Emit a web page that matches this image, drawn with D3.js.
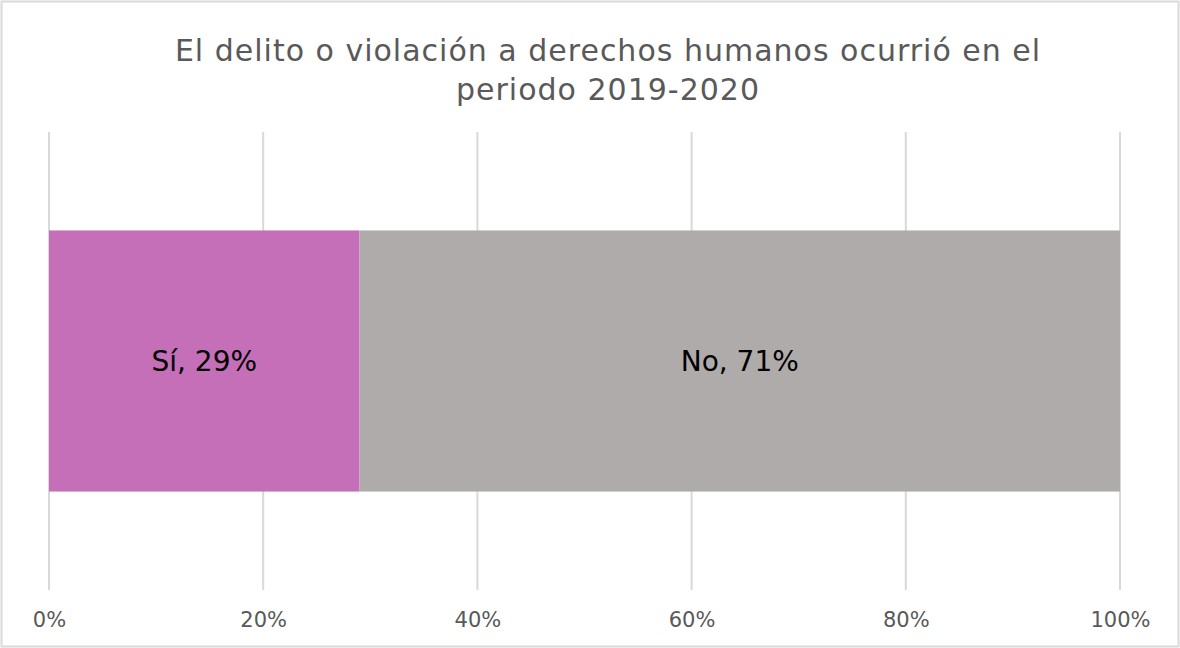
<!DOCTYPE html>
<html>
<head>
<meta charset="utf-8">
<title>El delito ocurrió 2019-2020</title>
<script src="https://cdn.jsdelivr.net/npm/d3@7"></script>
<style>
  body { margin: 0; background: #fff; }
  svg { display: block; }
  .tick text { font-family: "DejaVu Sans", sans-serif; }
</style>
</head>
<body>
<div id="chart"></div>
<script>
// data
var categories = ["Sí", "No"];
var values = [29, 71];
var colors = ["#c46fb8", "#afabab"];
var tickValues = [0, 20, 40, 60, 80, 100];
var titleLines = ["El delito o violación a derechos humanos ocurrió en el", "periodo 2019-2020"];

var W = 1180, H = 648;
var margin = {top: 132, right: 60, bottom: 58, left: 49};
var innerW = W - margin.left - margin.right,
    innerH = H - margin.top - margin.bottom;

var svg = d3.select("#chart").append("svg")
    .attr("width", W)
    .attr("height", H);

// chart border
svg.append("rect")
    .attr("x", 1.5).attr("y", 1.5)
    .attr("width", W - 3).attr("height", H - 3)
    .attr("fill", "#fff")
    .attr("stroke", "#d9d9d9")
    .attr("stroke-width", 2);

// title
svg.append("text")
    .attr("x", 608)
    .attr("text-anchor", "middle")
    .attr("font-family", "DejaVu Sans, sans-serif")
    .attr("font-size", 30)
    .attr("letter-spacing", 1)
    .attr("fill", "#595959")
    .selectAll("tspan")
    .data(titleLines)
    .enter().append("tspan")
    .attr("x", 608)
    .attr("y", function(d, i) { return 61 + i * 39; })
    .text(function(d) { return d; });

var g = svg.append("g")
    .attr("transform", "translate(" + margin.left + "," + margin.top + ")");

var x = d3.scaleLinear().domain([0, 100]).range([0, 1071]);
var y = d3.scaleBand().domain(["row"]).range([0, innerH]).paddingInner(0).paddingOuter(0.377);

// gridlines
g.append("g")
    .selectAll("line")
    .data(tickValues)
    .enter().append("line")
    .attr("x1", function(d) { return x(d); })
    .attr("x2", function(d) { return x(d); })
    .attr("y1", 0)
    .attr("y2", innerH)
    .attr("stroke", "#d9d9d9")
    .attr("stroke-width", 2);

// stacked segments
var segs = [];
var acc = 0;
categories.forEach(function(c, i) {
    segs.push({cat: c, v: values[i], x0: acc, x1: acc + values[i], color: colors[i]});
    acc += values[i];
});

g.selectAll(".seg")
    .data(segs)
    .enter().append("rect")
    .attr("class", "seg")
    .attr("x", function(d) { return x(d.x0); })
    .attr("width", function(d) { return x(d.x1) - x(d.x0); })
    .attr("y", y("row"))
    .attr("height", y.bandwidth())
    .attr("fill", function(d) { return d.color; });

g.selectAll(".lbl")
    .data(segs)
    .enter().append("text")
    .attr("class", "lbl")
    .attr("x", function(d) { return (x(d.x0) + x(d.x1)) / 2; })
    .attr("y", y("row") + y.bandwidth() / 2)
    .attr("dy", "0.35em")
    .attr("text-anchor", "middle")
    .attr("font-family", "DejaVu Sans, sans-serif")
    .attr("font-size", 28)
    .attr("fill", "#000")
    .text(function(d) { return d.cat + ", " + d.v + "%"; });

// x axis labels
var xAxis = d3.axisBottom(x)
    .tickValues(tickValues)
    .tickSize(0)
    .tickPadding(22)
    .tickFormat(function(d) { return d + "%"; });

var ax = g.append("g")
    .attr("transform", "translate(0," + innerH + ")")
    .call(xAxis);
ax.select(".domain").remove();
ax.selectAll("text")
    .attr("font-size", 21)
    .attr("fill", "#595959");
</script>
</body>
</html>
